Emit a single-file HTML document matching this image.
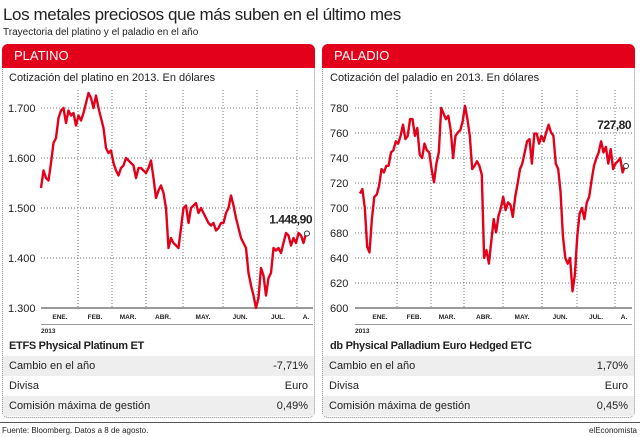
<!DOCTYPE html>
<html><head><meta charset="utf-8"><style>
body{margin:0;width:640px;height:437px;background:#fff;font-family:"Liberation Sans",sans-serif;overflow:hidden;position:relative}
.t{position:absolute;white-space:nowrap}
.panel{position:absolute;top:44px;width:313px;height:374px;border:1px dotted #888;border-radius:6px;box-sizing:border-box}
.hdr{position:absolute;top:44px;height:24px;background:#e2001a;border-radius:6px 6px 0 0;color:#fff;font-size:13px;line-height:24px;padding-left:12px;box-sizing:border-box}
.row{position:absolute;height:20px;font-size:11px;line-height:20px;color:#222;box-sizing:border-box;padding:0 6px}
.row span{position:absolute;right:6px}
</style></head><body>
<div class="t" style="left:3px;top:5px;font-size:17px;letter-spacing:-0.4px;color:#222">Los metales preciosos que más suben en el último mes</div>
<div class="t" style="left:3px;top:27px;font-size:10px;color:#222">Trayectoria del platino y el paladio en el año</div>
<div class="panel" style="left:2px"></div>
<div class="panel" style="left:322px"></div>
<div class="hdr" style="left:2px;width:313px">PLATINO</div>
<div class="hdr" style="left:322px;width:313px">PALADIO</div>
<div class="t" style="left:9px;top:72px;font-size:11px;color:#222">Cotización del platino en 2013. En dólares</div>
<div class="t" style="left:330px;top:72px;font-size:11px;color:#222">Cotización del paladio en 2013. En dólares</div>
<svg id="chart" width="640" height="437" style="position:absolute;left:0;top:0"></svg>

<div class="t" style="left:9px;top:340px;font-size:11px;font-weight:bold;color:#222;letter-spacing:-0.3px">ETFS Physical Platinum ET</div>
<div class="row" style="left:3px;top:356px;width:311px;background:#eee">Cambio en el año<span>-7,71%</span></div>
<div class="row" style="left:3px;top:376px;width:311px">Divisa<span>Euro</span></div>
<div class="row" style="left:3px;top:396px;width:311px;background:#eee">Comisión máxima de gestión<span>0,49%</span></div>
<div class="t" style="left:330px;top:340px;font-size:11px;font-weight:bold;color:#222;letter-spacing:-0.3px">db Physical Palladium Euro Hedged ETC</div>
<div class="row" style="left:323px;top:356px;width:311px;background:#eee">Cambio en el año<span>1,70%</span></div>
<div class="row" style="left:323px;top:376px;width:311px">Divisa<span>Euro</span></div>
<div class="row" style="left:323px;top:396px;width:311px;background:#eee">Comisión máxima de gestión<span>0,45%</span></div>
<div style="position:absolute;left:0;top:422px;width:640px;height:1px;background:#555"></div>
<div class="t" style="left:2px;top:426px;font-size:8px;color:#222">Fuente: Bloomberg. Datos a 8 de agosto.</div>
<div class="t" style="right:3px;top:426px;font-size:8px;color:#222">elEconomista</div>

<script>
const months=["ENE.","FEB.","MAR.","ABR.","MAY.","JUN.","JUL.","A."];
const platTicks=[1300,1400,1500,1600,1700];
const platTickLabels=["1.300","1.400","1.500","1.600","1.700"];
const platValues=[1540,1575,1560,1555,1590,1630,1640,1680,1695,1700,1670,1695,1685,1690,1665,1685,1675,1690,1710,1730,1720,1700,1725,1700,1680,1660,1620,1610,1615,1590,1575,1565,1580,1585,1600,1595,1590,1585,1560,1580,1580,1575,1570,1580,1595,1560,1520,1535,1545,1530,1500,1420,1440,1430,1425,1420,1460,1500,1505,1470,1500,1505,1510,1490,1500,1490,1480,1470,1465,1470,1455,1460,1470,1470,1490,1500,1525,1505,1480,1460,1440,1430,1420,1370,1345,1325,1300,1320,1380,1365,1325,1360,1370,1420,1415,1420,1410,1430,1450,1445,1425,1440,1430,1450,1445,1430,1448.9];
const platLast="1.448,90";
const palTickLabels=["600","620","640","680","700","720","740","760","780"];
const palValues=[703,707,690,655,650,680,700,702,710,725,722,728,728,740,742,750,748,755,765,752,755,770,770,755,762,738,735,748,742,740,725,713,730,740,780,775,770,773,760,735,755,758,760,768,782,770,755,725,728,732,728,720,645,652,640,660,680,668,683,690,700,688,695,693,682,700,712,725,730,740,750,752,730,757,757,748,755,750,758,765,758,755,730,725,705,665,645,640,645,615,630,665,685,690,680,695,700,715,728,735,740,750,740,745,730,743,725,730,732,735,722,727.8];
const palLast="727,80";
const svg=document.getElementById('chart');
const NS="http://www.w3.org/2000/svg";
function mk(tag,attrs,parent){const e=document.createElementNS(NS,tag);for(const k in attrs)e.setAttribute(k,attrs[k]);(parent||svg).appendChild(e);return e;}
function drawChart(o){
  const g=mk('g',{});
  
  
  const y=v=>308-(v-o.min)/(o.max-o.min)*200;
  const x=i=>o.x0+i/(o.values.length-1)*(o.x1-o.x0);
  o.tickLabels.forEach((lab,i)=>{
    const yy=308-i*200/(o.tickLabels.length-1);
    if(i>0){const l=mk('line',{x1:o.left,x2:o.right,y1:yy,y2:yy,stroke:'#777','stroke-dasharray':'1,2','stroke-width':1},g);
      
      }
    const t=mk('text',{x:o.labelX,y:yy+4,'font-size':11,fill:'#222','font-family':'Liberation Sans'},g);
    t.textContent=lab;
    
    
  });
  o.vgrid.forEach(vx=>{const l=mk('line',{x1:vx,x2:vx,y1:90,y2:308,stroke:'#777','stroke-dasharray':'1,2'},g);
    
    });
  const ax=mk('line',{x1:o.left,x2:o.right,y1:308,y2:308,stroke:'#333','stroke-width':1},g);
  
  
  const ax2=mk('line',{x1:o.left,x2:o.right,y1:324.5,y2:324.5,stroke:'#999','stroke-width':1},g);
  
  
  months.forEach((m,i)=>{const t=mk('text',{x:o.monthX[i],y:319,'font-size':6.5,'font-weight':'bold','text-anchor':'middle',fill:'#222','font-family':'Liberation Sans'},g);
    t.textContent=m;
    
    });
  const yr=mk('text',{x:o.left,y:333,'font-size':6.5,'font-weight':'bold',fill:'#222','font-family':'Liberation Sans'},g);
  yr.textContent='2013';
  
  
  const pts=o.values.map((v,i)=>x(i).toFixed(1)+','+y(v).toFixed(1)).join(' ');
  const pl=mk('polyline',{points:pts,fill:'none',stroke:'#e2001a','stroke-width':2.4,'stroke-linejoin':'round'},g);
  
  
  const n=o.values.length-1;
  const c=mk('circle',{cx:x(n)+1,cy:y(o.values[n]),r:2.5,fill:'#fff',stroke:'#333','stroke-width':1},g);
  
  
  const lt=mk('text',{x:o.lastX,y:y(o.values[n])-o.lastDy,'font-size':12,'font-weight':'bold','text-anchor':'end',fill:'#222','font-family':'Liberation Sans','letter-spacing':'-0.5'},g);
  lt.textContent=o.last;
  
  
}
drawChart({name:'platino',values:platValues,min:1300,max:1700,tickLabels:platTickLabels,x0:41,x1:306,left:41,right:313,labelX:8,
  vgrid:[78,112,146,183,223,257,297],monthX:[60,95,128,163,203,240,278,306],last:platLast,lastX:312,lastDy:10});
drawChart({name:'paladio',values:palValues,min:600,max:780,tickLabels:palTickLabels,x0:360,x1:625,left:355,right:632,labelX:330,
  vgrid:[397,431,464,503,542,577,615],monthX:[380,414,447,484,522,560,596,624],last:palLast,lastX:631,lastDy:37});
</script>
</body></html>
